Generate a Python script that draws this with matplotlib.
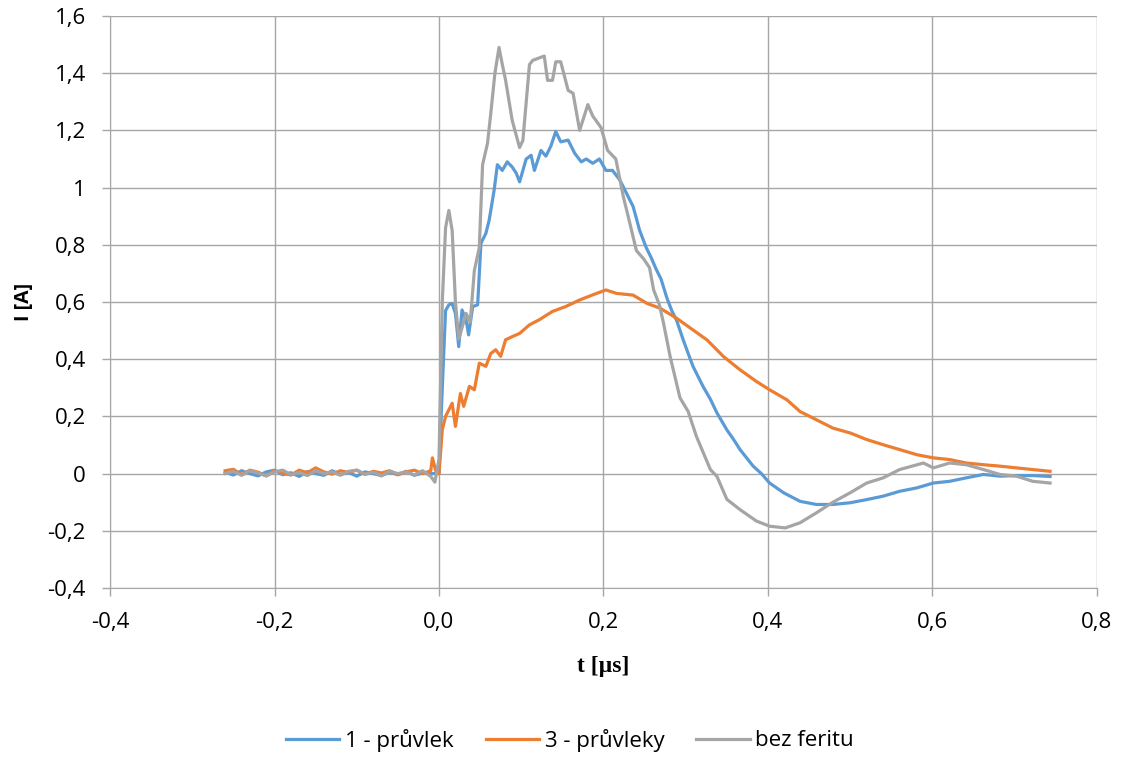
import numpy as np
import matplotlib
matplotlib.use("Agg")
import matplotlib.pyplot as plt
from matplotlib.ticker import FixedLocator, FuncFormatter

# ----------------------------
# Data
# ----------------------------
t_base = [-0.26, -0.25, -0.24, -0.23, -0.22, -0.21, -0.20, -0.19, -0.18, -0.17,
          -0.16, -0.15, -0.14, -0.13, -0.12, -0.11, -0.10, -0.09, -0.08, -0.07,
          -0.06, -0.05, -0.04, -0.03, -0.02, -0.01]

# 1 - pruvlek
t_blue = t_base + [0.0, 0.004, 0.008, 0.012, 0.016, 0.020, 0.024, 0.028, 0.033, 0.036,
                   0.041, 0.047, 0.051, 0.057, 0.061, 0.067, 0.071, 0.077, 0.083, 0.089,
                   0.094, 0.098, 0.106, 0.112, 0.116, 0.124, 0.130, 0.136, 0.142, 0.148,
                   0.157, 0.165, 0.173, 0.179, 0.187, 0.195, 0.203, 0.211, 0.220, 0.228,
                   0.236, 0.244, 0.252, 0.258, 0.264, 0.270, 0.277, 0.283, 0.289, 0.297,
                   0.303, 0.309, 0.321, 0.330, 0.338, 0.350, 0.358, 0.366, 0.382, 0.392,
                   0.402, 0.419, 0.439, 0.459, 0.479, 0.500, 0.520, 0.540, 0.560, 0.581,
                   0.601, 0.621, 0.641, 0.662, 0.682, 0.702, 0.722, 0.743]
i_blue = [0.005, -0.005, 0.010, 0.000, -0.008, 0.006, 0.012, -0.004, 0.003, -0.010,
          0.007, 0.000, -0.006, 0.010, -0.003, 0.004, -0.009, 0.006, 0.000, -0.007,
          0.005, -0.004, 0.008, -0.006, 0.002, 0.000,
          0.000, 0.300, 0.570, 0.590, 0.595, 0.560, 0.444, 0.572, 0.537, 0.485,
          0.584, 0.590, 0.805, 0.840, 0.886, 0.990, 1.080, 1.060, 1.090, 1.072,
          1.050, 1.020, 1.100, 1.113, 1.060, 1.130, 1.110, 1.145, 1.196, 1.160,
          1.166, 1.120, 1.090, 1.100, 1.085, 1.100, 1.060, 1.060, 1.026, 0.980,
          0.934, 0.850, 0.790, 0.755, 0.715, 0.680, 0.615, 0.570, 0.535, 0.467,
          0.420, 0.374, 0.305, 0.260, 0.212, 0.153, 0.120, 0.084, 0.026, 0.000,
          -0.033, -0.067, -0.097, -0.108, -0.108, -0.102, -0.091, -0.079, -0.062, -0.050,
          -0.033, -0.027, -0.015, -0.003, -0.009, -0.007, -0.007, -0.010]

# 3 - pruvleky
t_orange = t_base + [-0.008, -0.004, 0.0, 0.004, 0.008, 0.012, 0.016, 0.020, 0.026, 0.030,
                     0.037, 0.043, 0.049, 0.057, 0.063, 0.069, 0.075, 0.081, 0.090, 0.098,
                     0.110, 0.122, 0.138, 0.154, 0.171, 0.187, 0.203, 0.216, 0.236, 0.253,
                     0.269, 0.289, 0.309, 0.326, 0.346, 0.366, 0.386, 0.402, 0.423, 0.439,
                     0.459, 0.479, 0.500, 0.520, 0.540, 0.560, 0.581, 0.601, 0.621, 0.641,
                     0.662, 0.682, 0.702, 0.722, 0.743]
i_orange = [0.010, 0.015, -0.004, 0.012, 0.005, -0.008, 0.010, 0.002, -0.005, 0.012,
            0.003, 0.020, 0.006, -0.002, 0.010, 0.004, 0.012, -0.003, 0.008, 0.002,
            0.010, -0.004, 0.006, 0.012, 0.000, 0.010,
            0.055, 0.010, 0.000, 0.153, 0.200, 0.223, 0.246, 0.165, 0.280, 0.235,
            0.305, 0.293, 0.386, 0.375, 0.420, 0.433, 0.410, 0.468, 0.480, 0.490,
            0.520, 0.538, 0.567, 0.584, 0.607, 0.625, 0.642, 0.630, 0.624, 0.595,
            0.578, 0.543, 0.502, 0.467, 0.409, 0.363, 0.322, 0.293, 0.258, 0.217,
            0.188, 0.159, 0.142, 0.119, 0.101, 0.084, 0.066, 0.055, 0.049, 0.037,
            0.031, 0.026, 0.020, 0.014, 0.008]

# bez feritu
t_gray = t_base + [-0.005, 0.0, 0.004, 0.008, 0.012, 0.016, 0.020, 0.024, 0.029, 0.033,
                   0.038, 0.043, 0.049, 0.053, 0.059, 0.063, 0.068, 0.073, 0.077, 0.081,
                   0.089, 0.098, 0.102, 0.110, 0.114, 0.128, 0.132, 0.138, 0.142, 0.148,
                   0.157, 0.163, 0.171, 0.181, 0.187, 0.197, 0.205, 0.215, 0.224, 0.232,
                   0.240, 0.249, 0.256, 0.261, 0.268, 0.273, 0.281, 0.293, 0.303, 0.313,
                   0.330, 0.338, 0.350, 0.366, 0.386, 0.402, 0.421, 0.439, 0.459, 0.479,
                   0.500, 0.520, 0.540, 0.560, 0.589, 0.601, 0.621, 0.641, 0.662, 0.682,
                   0.702, 0.722, 0.743]
i_gray = [0.000, 0.008, -0.006, 0.010, 0.002, -0.008, 0.006, 0.012, -0.004, 0.004,
          -0.007, 0.010, 0.000, 0.006, -0.006, 0.008, 0.012, -0.002, 0.005, -0.008,
          0.008, 0.000, 0.006, -0.005, 0.010, -0.010,
          -0.030, 0.050, 0.600, 0.860, 0.920, 0.850, 0.600, 0.470, 0.520, 0.560,
          0.530, 0.710, 0.790, 1.080, 1.155, 1.260, 1.400, 1.490, 1.430, 1.375,
          1.235, 1.140, 1.165, 1.430, 1.445, 1.460, 1.375, 1.375, 1.440, 1.440,
          1.340, 1.330, 1.200, 1.290, 1.250, 1.210, 1.130, 1.100, 0.970, 0.876,
          0.780, 0.750, 0.720, 0.642, 0.590, 0.526, 0.410, 0.265, 0.217, 0.130,
          0.014, -0.010, -0.090, -0.126, -0.166, -0.184, -0.190, -0.172, -0.137, -0.100,
          -0.067, -0.033, -0.015, 0.014, 0.037, 0.020, 0.037, 0.031, 0.014, -0.003,
          -0.009, -0.027, -0.033]

labels = ["1 - průvlek", "3 - průvleky", "bez feritu"]
colors = ["#5B9BD5", "#ED7D31", "#A5A5A5"]

# ----------------------------
# Plot
# ----------------------------
plt.rcParams['font.family'] = ['Open Sans', 'DejaVu Sans']

fig = plt.figure(figsize=(11.26, 7.58), dpi=100)
ax = fig.add_axes([0.0977, 0.2243, 0.8765, 0.7546])

series = [(t_blue, i_blue), (t_orange, i_orange), (t_gray, i_gray)]
for (t, i), lab, col in zip(series, labels, colors):
    ax.plot(t, i, color=col, lw=2.3, label=lab, solid_joinstyle='round')

ax.set_xlim(-0.4, 0.8)
ax.set_ylim(-0.4, 1.6)
ax.xaxis.set_major_locator(FixedLocator(np.arange(-0.4, 0.81, 0.2)))
ax.yaxis.set_major_locator(FixedLocator(np.arange(-0.4, 1.61, 0.2)))


def fmt_x(v, pos):
    return f"{v:.1f}".replace(".", ",").replace("-0,0", "0,0")


def fmt_y(v, pos):
    v = round(v, 1)
    if abs(v - round(v)) < 1e-9:
        return f"{int(round(v))}"
    return f"{v:.1f}".replace(".", ",")


ax.xaxis.set_major_formatter(FuncFormatter(fmt_x))
ax.yaxis.set_major_formatter(FuncFormatter(fmt_y))

ax.grid(True, color="#a6a6a6", lw=1.0)
ax.set_axisbelow(True)
for s in ["top", "right"]:
    ax.spines[s].set_visible(False)
for s in ["left", "bottom"]:
    ax.spines[s].set_color("#a6a6a6")
ax.tick_params(axis="both", colors="#a6a6a6", labelcolor="black",
               labelsize=16, length=5.5, width=1.0, direction="out", pad=12)

ax.set_xlabel("t [µs]", fontsize=17, fontweight="bold", family="Liberation Serif")
ax.xaxis.set_label_coords(0.5, (588 - 656) / 572)
ax.set_ylabel("I [A]", fontsize=14, fontweight="bold")
ax.yaxis.set_label_coords((34 - 110) / 987, 0.5)

fig.legend(loc="center", bbox_to_anchor=(570 / 1126, 1 - 740 / 758), ncol=3,
           frameon=False, fontsize=16, handlelength=2.4, handletextpad=0.25,
           columnspacing=1.45)

fig.savefig("out.png", dpi=100)
